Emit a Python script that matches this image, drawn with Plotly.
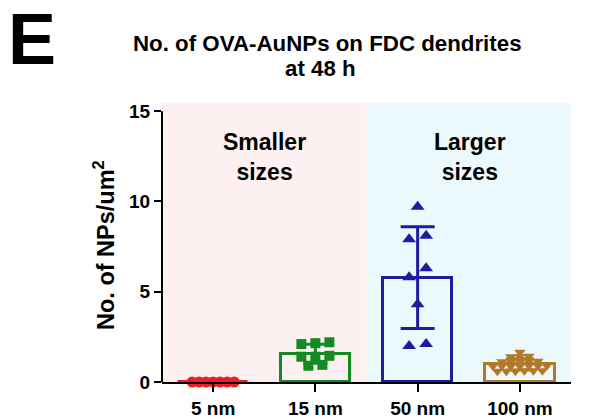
import numpy as np
import plotly.graph_objects as go

# ---------------- data ----------------
categories = ["5 nm", "15 nm", "50 nm", "100 nm"]
vals_5nm = [0, 0, 0, 0, 0, 0, 0]
vals_15nm = [2.15, 2.2, 2.1, 1.4, 1.45, 1.4, 0.95, 0.9]
vals_50nm = [9.7, 8.1, 7.9, 6.3, 5.8, 4.3, 2.1, 2.0]
vals_100nm = [1.65, 1.4, 1.42, 1.4, 1.12, 1.15, 1.12, 1.15, 1.12,
              0.88, 0.9, 0.88, 0.9, 0.88, 0.9, 0.88,
              0.6, 0.62, 0.6, 0.62, 0.6, 0.62]
y_ticks = [0, 5, 10, 15]
region_labels = ["Smaller<br>sizes", "Larger<br>sizes"]

series = [vals_5nm, vals_15nm, vals_50nm, vals_100nm]

# ---------------- style ----------------
W, H = 597, 419
ML, MR, MT, MB = 162, 26, 103, 37
YMAX = 15.45
XMIN, XMAX = -0.5, 3.5
plot_w = W - ML - MR
plot_h = H - MT - MB
px_per_unit = plot_h / YMAX
px_per_cat = plot_w / (XMAX - XMIN)

colors = ["#ee1c24", "#138a22", "#1c1ca0", "#b07a28"]
symbols = ["circle", "square", "triangle-up", "triangle-down"]
msizes = [11, 10, 12, 10]
spacing = [7, 14, 17, 9]    # horizontal spacing of swarm points (px)
link = [6, 6, 10, 3]        # vertical distance (px) grouping points in a row
cap_w = [12, 12, 17, 14]
FONT = "Liberation Sans, Arial, sans-serif"


def swarm_offsets(values, sp_px, link_px):
    v = np.asarray(values, dtype=float)
    order = list(np.argsort(-v, kind="stable"))
    groups, cur = [], []
    for idx in order:
        if cur and (v[cur[-1]] - v[idx]) * px_per_unit > link_px:
            groups.append(cur)
            cur = []
        cur.append(idx)
    if cur:
        groups.append(cur)
    off = np.zeros(len(v))
    for g in groups:
        g = sorted(g, key=lambda i: v[i])
        n = len(g)
        for k, idx in enumerate(g):
            off[idx] = (k - (n - 1) / 2) * sp_px / px_per_cat
    return off


fig = go.Figure()

# bars with SD error bars
for i, vals in enumerate(series):
    arr = np.asarray(vals, dtype=float)
    mean = float(arr.mean())
    sd = float(arr.std(ddof=1))
    fig.add_trace(go.Bar(
        x=[i], y=[mean], width=0.68,
        marker=dict(color="rgba(0,0,0,0)", line=dict(color=colors[i], width=3)),
        error_y=dict(type="data", array=[sd], visible=True, color=colors[i],
                     thickness=3, width=cap_w[i]),
        showlegend=False, hoverinfo="skip",
    ))

# individual points
for i, vals in enumerate(series):
    off = swarm_offsets(vals, spacing[i], link[i])
    fig.add_trace(go.Scatter(
        x=i + off, y=vals, mode="markers",
        marker=dict(symbol=symbols[i], size=msizes[i], color=colors[i],
                    line=dict(width=0)),
        cliponaxis=False, showlegend=False, hoverinfo="skip",
    ))

# background regions
fig.add_shape(type="rect", xref="x", yref="paper", x0=XMIN, x1=1.5, y0=0, y1=1,
              fillcolor="#fdf0f0", line_width=0, layer="below")
fig.add_shape(type="rect", xref="x", yref="paper", x0=1.5, x1=XMAX + 0.02, y0=0, y1=1,
              fillcolor="#ebf8fc", line_width=0, layer="below")
# y axis line from 0 to 15
fig.add_shape(type="line", xref="paper", yref="y", x0=0, x1=0, y0=0, y1=y_ticks[-1],
              line=dict(color="black", width=2))


def px_x(px):
    return (px - ML) / plot_w


def px_y(py):
    return (H - MB - py) / plot_h


ann = [
    dict(text="E", x=px_x(32), y=px_y(39), font=dict(size=72)),
    dict(text="No. of OVA-AuNPs on FDC dendrites", x=px_x(327), y=px_y(44), font=dict(size=22.3)),
    dict(text="at 48 h", x=px_x(320), y=px_y(69), font=dict(size=22.3)),
    dict(text=region_labels[0], x=px_x(264), y=px_y(157), font=dict(size=23)),
    dict(text=region_labels[1], x=px_x(470), y=px_y(157), font=dict(size=23)),
    dict(text="No. of NPs/um<sup>2</sup>", x=px_x(104), y=px_y(245), font=dict(size=23.5),
         textangle=-90),
]
for a in ann:
    a.update(xref="paper", yref="paper", showarrow=False, xanchor="center",
             yanchor="middle")
    a["font"].update(family=FONT, color="black", weight="bold")
    fig.add_annotation(**a)

fig.update_layout(
    width=W, height=H,
    margin=dict(l=ML, r=MR, t=MT, b=MB, pad=0, autoexpand=False),
    paper_bgcolor="white", plot_bgcolor="white",
    font=dict(family=FONT, color="black"),
    bargap=0,
    xaxis=dict(range=[XMIN, XMAX], tickvals=list(range(len(categories))),
               ticktext=categories, showgrid=False, zeroline=False,
               showline=True, linecolor="black", linewidth=2, automargin=False,
               ticks="outside", ticklen=8, tickwidth=2, tickcolor="black",
               tickfont=dict(size=19, family=FONT, weight="bold", color="black")),
    yaxis=dict(range=[0, YMAX], tickvals=y_ticks, showgrid=False, zeroline=False,
               showline=False, ticks="outside", ticklen=7, tickwidth=2,
               tickcolor="black", automargin=False,
               tickfont=dict(size=19, family=FONT, weight="bold", color="black")),
)

fig.write_html("out.html", config={"displayModeBar": False},
               post_script="document.body.style.margin='0';document.body.style.overflow='hidden';")
